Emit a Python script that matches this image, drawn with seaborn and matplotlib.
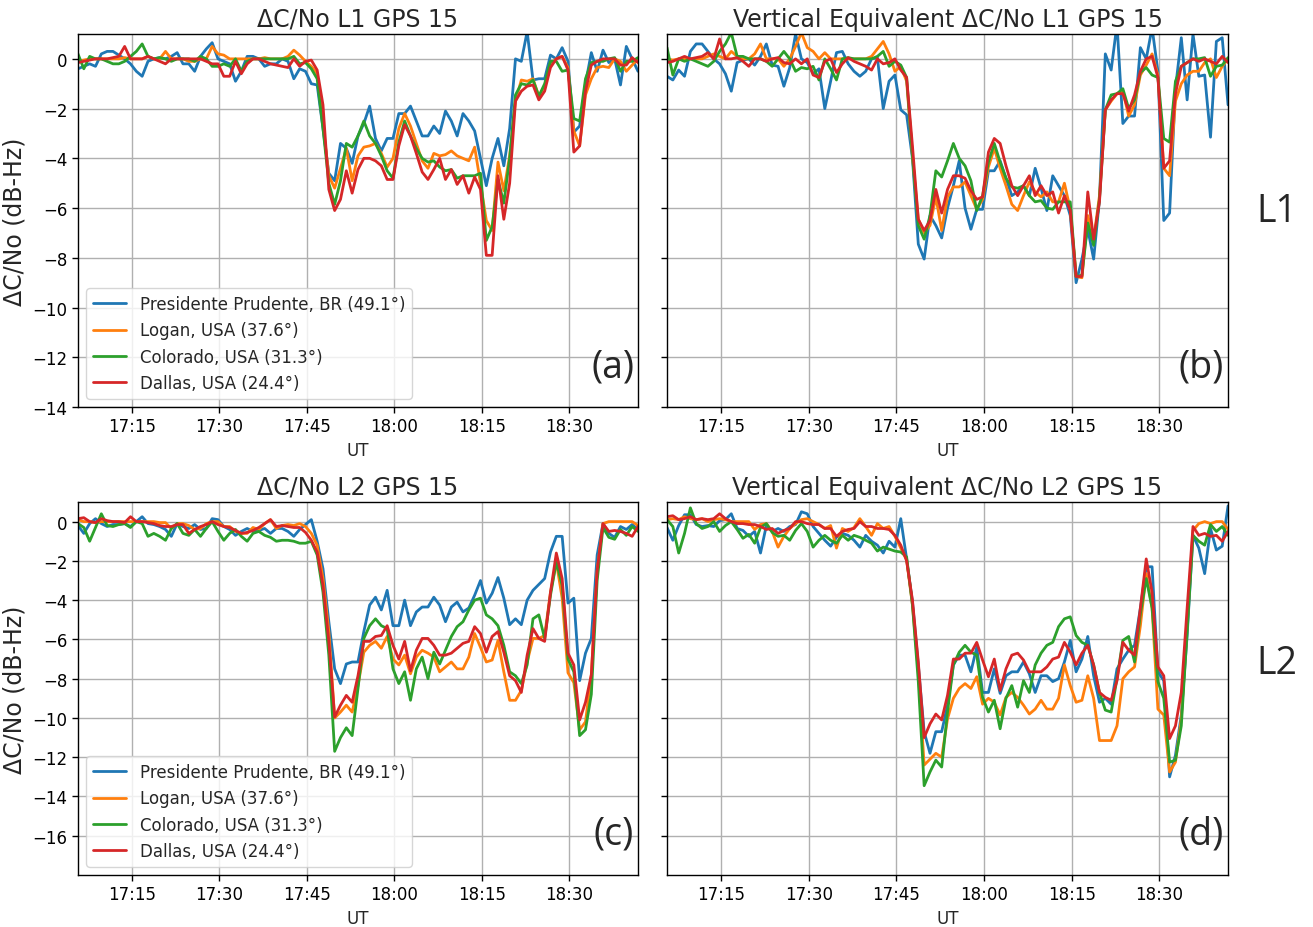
import numpy as np
import pandas as pd
import matplotlib
matplotlib.use("Agg")
import matplotlib.pyplot as plt
import matplotlib.dates as mdates
import seaborn as sns

# ---------------- data ----------------
stations = ["Presidente Prudente, BR (49.1°)", "Logan, USA (37.6°)",
            "Colorado, USA (31.3°)", "Dallas, USA (24.4°)"]
colors = ["#1f77b4", "#ff7f0e", "#2ca02c", "#d62728"]
start_time = "2023-01-01 17:05:45"
n_samples = 97  # one sample per minute
titles = ["ΔC/No L1 GPS 15", "Vertical Equivalent ΔC/No L1 GPS 15",
          "ΔC/No L2 GPS 15", "Vertical Equivalent ΔC/No L2 GPS 15"]
panel_labels = ["(a)", "(b)", "(c)", "(d)"]

# (a) L1 slant
a_pp = [-0.4, -0.3, -0.2, -0.3, 0.2, 0.3, 0.3, 0.15, 0.0, -0.2, -0.5, -0.7, -0.1, 0.0, 0.05, 0.0, 0.1, 0.25, -0.2, -0.2,
        -0.5, 0.1, 0.4, 0.65, 0.0, -0.1, -0.2, -0.9, -0.5, 0.1, 0.1, 0.0, -0.3, -0.2, -0.2, 0.0, -0.1, -0.8, -0.4, -0.5,
        -1.0, -1.05, -2.8, -4.6, -4.9, -3.4, -3.6, -4.2, -3.1, -2.6, -1.9, -3.2, -3.7, -3.2, -3.2, -2.2, -2.2, -1.9, -2.5, -3.1,
        -3.1, -2.7, -3.0, -2.1, -2.5, -3.1, -2.2, -2.5, -2.9, -4.0, -5.1, -4.0, -3.2, -4.3, -2.8, 0.0, -0.1, 1.1, -0.85, -0.8,
        -0.8, 0.15, 0.0, 0.45, -0.1, -2.95, -2.7, -1.0, 0.25, -0.5, 0.35, -0.15, 0.0, -1.05, 0.5, 0.0, -0.5]
a_lo = [-0.1, -0.05, 0.0, 0.0, 0.0, 0.0, 0.0, 0.0, 0.05, 0.0, 0.0, 0.0, 0.1, 0.0, 0.0, 0.3, 0.0, 0.0, 0.0, -0.1,
        -0.1, 0.0, 0.0, 0.5, 0.2, 0.15, 0.0, 0.0, 0.0, 0.0, 0.0, 0.0, 0.05, 0.0, 0.0, 0.0, 0.1, 0.35, 0.15, -0.1,
        -0.3, -0.6, -2.6, -4.7, -5.2, -4.4, -3.6, -4.9, -3.9, -3.55, -3.5, -3.4, -3.8, -4.35, -4.0, -2.8, -2.2, -2.7, -3.4, -4.1,
        -4.4, -3.8, -3.9, -3.85, -3.7, -3.9, -4.0, -4.1, -3.55, -5.0, -6.5, -6.9, -4.15, -5.3, -3.9, -1.7, -0.85, -0.9, -0.8, -1.5,
        -1.1, -0.2, 0.0, 0.1, -0.35, -2.9, -3.5, -1.45, -0.8, -0.35, -0.3, -0.35, 0.0, -0.1, -0.5, -0.25, 0.0]
a_co = [0.2, -0.4, 0.1, 0.0, 0.0, -0.1, -0.2, -0.2, -0.1, 0.1, 0.3, 0.6, 0.1, 0.0, 0.05, 0.0, -0.1, 0.0, 0.0, 0.0,
        -0.1, 0.1, 0.0, -0.3, -0.3, -0.2, -0.3, 0.0, -0.5, -0.1, 0.0, 0.0, 0.0, 0.0, 0.0, 0.0, 0.0, 0.1, -0.2, -0.15,
        -0.4, -0.8, -2.8, -5.0, -5.85, -4.9, -3.4, -3.55, -3.1, -2.5, -3.1, -3.4, -3.9, -4.5, -4.8, -3.35, -2.5, -3.1, -3.6, -4.0,
        -4.15, -4.1, -4.35, -4.5, -4.45, -4.8, -4.7, -4.7, -4.7, -4.6, -7.3, -6.75, -4.85, -5.8, -4.0, -1.45, -1.0, -1.05, -0.85, -1.5,
        -1.0, -0.1, -0.1, -0.5, -0.45, -2.4, -2.5, -0.8, -0.15, -0.1, -0.1, 0.0, 0.05, -0.5, -0.1, -0.1, 0.05]
a_da = [-0.15, -0.1, -0.05, 0.0, 0.0, 0.0, 0.05, 0.1, 0.5, 0.0, 0.0, 0.0, 0.1, 0.0, -0.1, -0.2, 0.0, 0.0, 0.0, 0.0,
        0.0, 0.0, -0.1, -0.2, -0.2, -0.7, -0.7, -0.1, -0.6, -0.2, 0.0, 0.0, -0.1, -0.2, -0.25, -0.3, -0.35, 0.0, -0.3, -0.1,
        -0.05, -0.45, -1.85, -5.25, -6.1, -5.65, -4.5, -5.4, -4.45, -4.0, -4.0, -4.1, -4.3, -4.85, -4.85, -3.5, -2.65, -3.1, -3.8, -4.55,
        -4.85, -4.45, -4.0, -4.85, -4.45, -5.05, -4.7, -5.4, -4.75, -5.25, -7.9, -7.9, -4.7, -6.45, -5.0, -1.7, -1.3, -1.1, -1.05, -1.65,
        -1.3, -0.35, 0.0, 0.1, -0.45, -3.75, -3.5, -1.3, -0.25, -0.1, 0.0, 0.0, 0.0, -0.25, -0.25, 0.05, -0.15]

# (b) L1 vertical equivalent
b_pp = [-0.7, -0.85, -0.45, -0.7, 0.3, 0.6, 0.6, 0.3, 0.0, -0.2, -0.6, -1.3, -0.15, -0.05, 0.0, -0.25, 0.1, 0.6, -0.25, -0.3,
        -1.1, -0.35, 1.0, 0.0, -0.15, -0.6, -0.4, -2.0, -0.9, 0.25, 0.3, -0.2, -0.5, -0.7, -0.5, 0.0, 0.05, -2.0, -0.9, -0.65,
        -2.05, -2.25, -4.0, -7.45, -8.05, -6.3, -6.7, -7.2, -6.0, -5.1, -4.1, -6.0, -6.85, -6.05, -6.05, -4.5, -4.5, -4.1, -4.8, -5.5,
        -5.35, -5.1, -5.5, -4.4, -5.2, -6.1, -4.7, -5.1, -5.5, -6.3, -9.0, -8.05, -6.85, -8.05, -5.65, 0.2, -0.45, 1.4, -2.6, -2.3,
        -2.3, 0.45, 0.0, 1.25, -0.5, -6.5, -6.2, -1.2, 0.85, -1.65, 1.0, -0.7, -0.65, -3.15, 0.7, 0.85, -1.85]
b_lo = [0.0, -0.05, 0.0, 0.0, 0.0, 0.0, 0.0, 0.1, 0.2, 0.1, 0.0, 0.3, 0.1, 0.0, 0.0, 0.2, 0.6, 0.0, 0.0, 0.0,
        -0.3, 0.0, 0.5, 1.05, 0.45, 0.3, 0.0, 0.25, 0.0, 0.0, 0.0, 0.0, 0.0, 0.0, 0.0, 0.1, 0.4, 0.7, 0.2, -0.5,
        -0.3, -0.9, -3.9, -6.45, -7.0, -6.7, -5.55, -6.9, -5.55, -5.15, -5.15, -4.95, -5.5, -6.05, -5.65, -4.35, -3.6, -4.4, -5.1, -5.85,
        -6.1, -5.5, -4.95, -5.35, -5.55, -5.35, -5.75, -5.75, -5.0, -6.05, -8.75, -8.8, -6.3, -7.25, -5.5, -2.05, -1.7, -1.4, -1.3, -2.3,
        -1.85, -0.65, -0.25, 0.2, -0.65, -4.4, -4.7, -1.7, -1.0, -0.65, -0.5, -0.5, -0.15, 0.0, -0.75, -0.3, 0.0]
b_co = [0.45, -0.65, 0.0, -0.1, 0.0, -0.1, -0.2, -0.3, -0.1, 0.3, 0.6, 1.05, 0.1, 0.1, 0.0, 0.0, 0.0, -0.1, -0.3, 0.0,
        0.3, 0.0, -0.5, -0.35, -0.4, -0.3, -0.85, 0.0, -0.4, -0.85, 0.0, 0.05, 0.0, 0.0, 0.0, 0.0, 0.1, 0.3, -0.3, -0.1,
        -0.25, -0.75, -3.9, -6.7, -7.25, -6.3, -4.5, -4.75, -4.1, -3.4, -4.0, -4.3, -4.9, -6.1, -5.5, -4.15, -3.4, -4.15, -4.8, -5.15,
        -5.2, -5.1, -5.5, -5.75, -5.7, -6.0, -6.05, -5.75, -5.75, -5.75, -8.75, -8.7, -6.6, -7.5, -5.65, -2.05, -1.45, -1.4, -1.2, -2.0,
        -1.65, -0.55, -0.35, -0.65, -0.75, -3.2, -3.35, -0.9, -0.3, -0.15, 0.0, 0.0, 0.05, -0.7, -0.3, -0.25, 0.05]
b_da = [-0.15, -0.1, 0.0, 0.1, 0.0, 0.05, 0.1, 0.25, 0.0, 0.8, 0.0, 0.0, 0.05, -0.1, -0.3, 0.0, 0.0, -0.1, 0.0, 0.05,
        -0.15, -0.2, 0.0, -0.2, 0.0, -0.65, -0.75, -0.1, 0.0, -0.55, -0.2, 0.05, -0.1, -0.2, -0.3, -0.45, 0.0, -0.2, -0.15, 0.0,
        -0.45, -0.75, -3.5, -6.45, -6.9, -6.5, -5.25, -6.2, -5.25, -4.7, -4.7, -4.8, -5.3, -5.65, -5.55, -3.75, -3.2, -3.4, -4.3, -5.1,
        -5.5, -5.1, -4.7, -5.5, -5.1, -5.5, -5.35, -6.2, -5.5, -6.1, -8.75, -8.75, -5.35, -7.25, -5.75, -2.05, -1.65, -1.4, -1.4, -2.1,
        -1.45, -0.5, 0.0, 0.1, -0.75, -4.4, -4.1, -1.4, -0.3, -0.15, 0.0, -0.1, 0.0, -0.1, -0.2, 0.1, -0.15]

# (c) L2 slant
c_pp = [-0.2, -0.6, -0.1, 0.15, -0.1, -0.25, -0.15, -0.15, -0.1, -0.25, 0.0, 0.25, -0.1, -0.15, -0.25, -0.4, -0.75, -0.1, -0.25, -0.35,
        -0.15, -0.4, -0.35, 0.15, 0.1, -0.25, -0.4, -0.7, -0.5, -0.35, -0.5, -0.45, -0.35, -0.6, -0.35, -0.35, -0.5, -0.75, -0.4, -0.15,
        0.1, -1.0, -2.4, -5.1, -7.5, -8.25, -7.25, -7.15, -7.15, -5.6, -4.25, -3.85, -4.5, -3.5, -5.3, -5.3, -4.0, -5.3, -4.6, -4.35,
        -4.35, -3.85, -4.25, -5.1, -4.35, -4.1, -4.6, -4.4, -3.75, -3.0, -4.15, -3.65, -2.85, -3.9, -5.25, -4.95, -5.25, -4.0, -3.5, -3.2,
        -2.9, -1.55, -0.75, -0.75, -4.15, -3.9, -8.1, -6.7, -5.95, -1.7, -0.1, -0.6, -0.8, -0.25, -0.4, -0.15, -0.4]
c_lo = [0.1, 0.0, 0.0, -0.05, 0.0, 0.0, 0.0, 0.0, 0.0, 0.0, 0.0, 0.0, 0.0, 0.0, -0.05, -0.05, -0.35, -0.1, -0.1, -0.2,
        -0.4, -0.35, -0.1, 0.0, 0.0, -0.25, -0.25, -0.5, -0.6, -0.6, -0.3, -0.4, -0.1, 0.1, -0.35, -0.2, -0.15, -0.2, -0.1, -0.25,
        -0.6, -1.2, -2.9, -5.6, -10.0, -9.7, -9.35, -9.7, -8.35, -6.65, -6.3, -6.1, -6.45, -5.85, -7.0, -7.3, -6.8, -7.75, -6.9, -6.55,
        -6.7, -6.9, -7.65, -7.4, -7.15, -7.5, -7.5, -6.9, -5.7, -6.4, -7.15, -7.05, -6.05, -7.65, -9.1, -9.1, -8.6, -7.15, -5.95, -5.95,
        -5.8, -3.6, -2.05, -3.9, -7.7, -8.2, -10.6, -10.2, -7.8, -2.5, -0.1, 0.0, 0.0, 0.0, 0.0, 0.0, -0.2]
c_co = [-0.1, -0.3, -1.0, -0.3, 0.4, -0.2, -0.25, -0.15, -0.1, -0.3, 0.0, -0.1, -0.75, -0.6, -0.75, -0.95, -0.35, -0.1, -0.6, -0.7,
        -0.4, -0.75, -0.35, 0.0, -0.5, -0.95, -0.6, -0.4, -0.75, -1.0, -0.6, -0.5, -0.7, -0.8, -1.0, -0.95, -0.95, -1.0, -1.1, -1.1,
        -1.0, -1.7, -3.6, -6.8, -11.7, -11.0, -10.5, -10.9, -8.5, -5.95, -5.3, -4.95, -5.3, -5.45, -7.5, -8.25, -7.65, -9.1, -7.5, -6.9,
        -8.0, -6.65, -7.25, -6.55, -5.85, -5.35, -5.1, -4.5, -4.0, -3.9, -4.75, -4.95, -5.3, -6.3, -7.65, -7.85, -8.25, -7.3, -4.95, -4.75,
        -5.95, -3.75, -2.05, -3.25, -7.0, -7.65, -10.9, -10.6, -8.8, -3.0, -0.3, -0.8, -0.9, -0.4, -0.7, -0.25, -0.5]
c_da = [0.15, 0.2, 0.0, -0.05, 0.15, 0.05, 0.0, 0.0, -0.05, 0.25, 0.0, 0.0, -0.05, -0.1, -0.2, -0.25, -0.25, -0.15, -0.15, -0.6,
        -0.4, -0.25, -0.15, 0.0, -0.15, -0.25, -0.3, -0.45, -0.6, -0.55, -0.45, -0.3, -0.1, 0.1, -0.25, -0.2, -0.25, -0.3, -0.3, -0.55,
        -0.95, -1.55, -3.25, -6.1, -9.95, -9.35, -8.85, -9.2, -7.85, -6.1, -6.1, -5.85, -5.8, -5.3, -6.3, -7.0, -6.1, -7.6, -6.55, -5.95,
        -5.95, -6.3, -6.8, -6.8, -6.7, -6.45, -6.2, -6.1, -5.35, -5.7, -6.65, -5.85, -5.6, -6.65, -7.85, -8.1, -8.7, -6.8, -5.45, -5.95,
        -6.1, -3.6, -1.6, -2.9, -6.7, -7.3, -10.1, -9.2, -7.8, -2.5, -0.1, -0.5, -0.45, -0.5, -0.6, -0.75, -0.25]

# (d) L2 vertical equivalent
d_pp = [-0.3, -0.95, -0.2, 0.35, 0.35, -0.15, -0.25, -0.2, -0.25, 0.05, 0.1, 0.4, -0.35, -0.45, -0.75, -0.5, -1.6, -0.2, -0.5, -0.35,
        -0.5, -0.25, -0.15, 0.5, 0.4, -0.25, -0.6, -0.95, -1.25, -0.8, -0.6, -0.7, -0.95, -1.3, -0.7, -1.0, -1.2, -1.6, -1.0, -1.3,
        0.15, -1.9, -4.1, -7.3, -10.7, -11.8, -10.7, -10.7, -9.35, -7.3, -6.8, -6.8, -7.65, -6.4, -8.7, -8.7, -7.5, -8.75, -7.85, -7.65,
        -7.65, -7.15, -7.75, -8.7, -7.85, -7.85, -8.15, -8.0, -7.15, -6.05, -7.65, -7.0, -5.85, -7.85, -9.2, -9.0, -9.3, -7.5, -7.0, -6.55,
        -6.3, -4.4, -2.3, -2.3, -7.65, -8.1, -13.0, -11.9, -9.85, -5.8, -0.7, -1.35, -2.65, -0.35, -1.45, -1.25, 0.8]
d_lo = [0.1, 0.15, 0.1, 0.25, 0.15, 0.1, 0.15, 0.0, 0.1, 0.15, 0.1, 0.0, 0.0, 0.0, 0.0, -0.4, -0.15, -0.1, -0.5, -1.3,
        -0.75, -0.35, -0.1, 0.1, 0.15, 0.0, -0.15, -0.35, -0.2, -1.35, -0.35, -0.5, -0.3, 0.15, -0.25, -0.7, -0.1, -0.35, -0.25, -0.75,
        -1.35, -1.95, -4.25, -7.65, -12.4, -12.1, -11.8, -12.0, -10.05, -9.0, -8.5, -8.25, -8.5, -7.9, -9.3, -9.0, -9.2, -9.85, -8.95, -8.7,
        -8.95, -9.35, -9.8, -9.55, -9.1, -9.55, -9.55, -9.0, -7.3, -8.35, -9.2, -9.1, -7.85, -9.0, -11.15, -11.15, -11.15, -10.4, -8.0, -7.65,
        -7.4, -5.3, -2.65, -4.4, -9.55, -9.85, -12.75, -12.25, -10.05, -5.3, -0.45, -0.1, 0.0, -0.1, 0.0, 0.0, -0.4]
d_co = [0.1, -0.25, -1.6, -0.6, 0.7, -0.1, -0.35, -0.25, 0.0, -0.5, -0.2, 0.0, -0.4, -0.85, -0.65, -1.1, -0.3, -0.1, -0.55, -0.75,
        -0.7, -0.95, -0.45, -0.1, -0.5, -1.3, -0.95, -0.7, -0.95, -1.1, -0.7, -0.95, -0.7, -0.8, -0.95, -1.1, -1.5, -1.3, -1.4, -1.5,
        -1.55, -1.8, -4.25, -8.15, -13.45, -12.75, -12.15, -12.5, -9.7, -7.3, -6.65, -6.3, -6.65, -6.8, -8.95, -9.7, -9.1, -10.55, -9.0, -8.35,
        -9.45, -8.1, -8.7, -7.3, -6.7, -6.3, -6.15, -5.35, -4.95, -4.85, -5.8, -6.15, -6.3, -7.3, -8.7, -9.6, -9.7, -8.0, -6.05, -5.85,
        -7.15, -4.7, -2.9, -4.4, -8.15, -9.0, -12.25, -12.15, -10.4, -5.6, -0.7, -1.0, -1.2, -0.15, -0.5, -0.25, -0.7]
d_da = [0.25, 0.3, 0.1, 0.15, 0.25, 0.1, 0.15, 0.1, 0.15, 0.4, 0.15, 0.0, -0.1, -0.1, -0.15, -0.15, -0.25, -0.4, -0.35, -0.6,
        -0.45, -0.35, 0.0, 0.0, -0.1, -0.15, -0.15, -0.35, -0.35, -0.75, -0.5, -0.4, -0.35, 0.0, -0.25, -0.25, -0.35, -0.35, -0.4, -0.7,
        -1.2, -2.0, -4.0, -7.15, -11.0, -10.3, -9.8, -10.1, -8.85, -7.0, -7.0, -6.7, -6.7, -6.15, -7.05, -7.9, -7.0, -8.6, -7.5, -6.8,
        -6.7, -7.05, -7.65, -7.65, -7.65, -7.4, -7.0, -6.9, -6.15, -6.65, -7.3, -6.7, -6.3, -7.3, -8.7, -8.95, -9.1, -8.1, -6.15, -6.55,
        -6.8, -4.4, -1.9, -3.6, -7.4, -7.85, -11.05, -10.4, -8.7, -4.4, -0.25, -0.7, -0.6, -0.75, -0.7, -1.0, -0.5]

panels = [[a_pp, a_lo, a_co, a_da], [b_pp, b_lo, b_co, b_da],
          [c_pp, c_lo, c_co, c_da], [d_pp, d_lo, d_co, d_da]]

times = pd.date_range(start_time, periods=n_samples, freq="1min")

# ---------------- figure ----------------
sns.set_style("ticks")
plt.rcParams["font.family"] = ["DejaVu Sans"]

fig = plt.figure(figsize=(13.13, 9.28), dpi=100)
rects = [[0.0594, 0.5603, 0.4265, 0.402], [0.508, 0.5603, 0.4273, 0.402],
         [0.0594, 0.0560, 0.4265, 0.402], [0.508, 0.0560, 0.4273, 0.402]]
ylims = [(-14, 1), (-14, 1), (-18, 1), (-18, 1)]
yticks = [np.arange(-14, 1, 2), np.arange(-14, 1, 2), np.arange(-16, 1, 2), np.arange(-16, 1, 2)]
label_font = ["Open Sans", "DejaVu Sans"]

for k in range(4):
    ax = fig.add_axes(rects[k])
    frames = []
    for s, vals in zip(stations, panels[k]):
        frames.append(pd.DataFrame({"time": times, "value": vals, "station": s}))
    df = pd.concat(frames, ignore_index=True)
    sns.lineplot(data=df, x="time", y="value", hue="station", hue_order=stations,
                 palette=colors, linewidth=2.0, ax=ax, legend=(k % 2 == 0))
    ax.set_xlim(times[0], times[-1])
    ax.set_ylim(*ylims[k])
    ax.set_yticks(yticks[k])
    ax.xaxis.set_major_locator(mdates.MinuteLocator(byminute=[0, 15, 30, 45]))
    ax.xaxis.set_major_formatter(mdates.DateFormatter("%H:%M"))
    ax.grid(True, color="#b0b0b0", linewidth=1.0)
    for sp in ax.spines.values():
        sp.set_visible(True)
        sp.set_color("black")
        sp.set_linewidth(1.0)
    ax.tick_params(axis="both", labelsize=12, direction="out", length=4, width=1, colors="black")
    ax.set_title(titles[k], fontsize=17, pad=6)
    ax.set_xlabel("UT", fontsize=12)
    if k % 2 == 0:
        ax.set_ylabel("ΔC/No (dB-Hz)", fontsize=17)
        h, l = ax.get_legend_handles_labels()
        ax.legend(h, l, loc="lower left", fontsize=12, framealpha=0.8)
    else:
        ax.set_ylabel("")
        ax.set_yticklabels([])
    ax.text(0.993, 0.11, panel_labels[k], transform=ax.transAxes, ha="right", va="center",
            fontsize=27, family=label_font)

fig.text(0.957, 0.772, "L1", fontsize=27, ha="left", va="center", family=label_font)
fig.text(0.957, 0.284, "L2", fontsize=27, ha="left", va="center", family=label_font)

fig.savefig("out.png", dpi=100)
